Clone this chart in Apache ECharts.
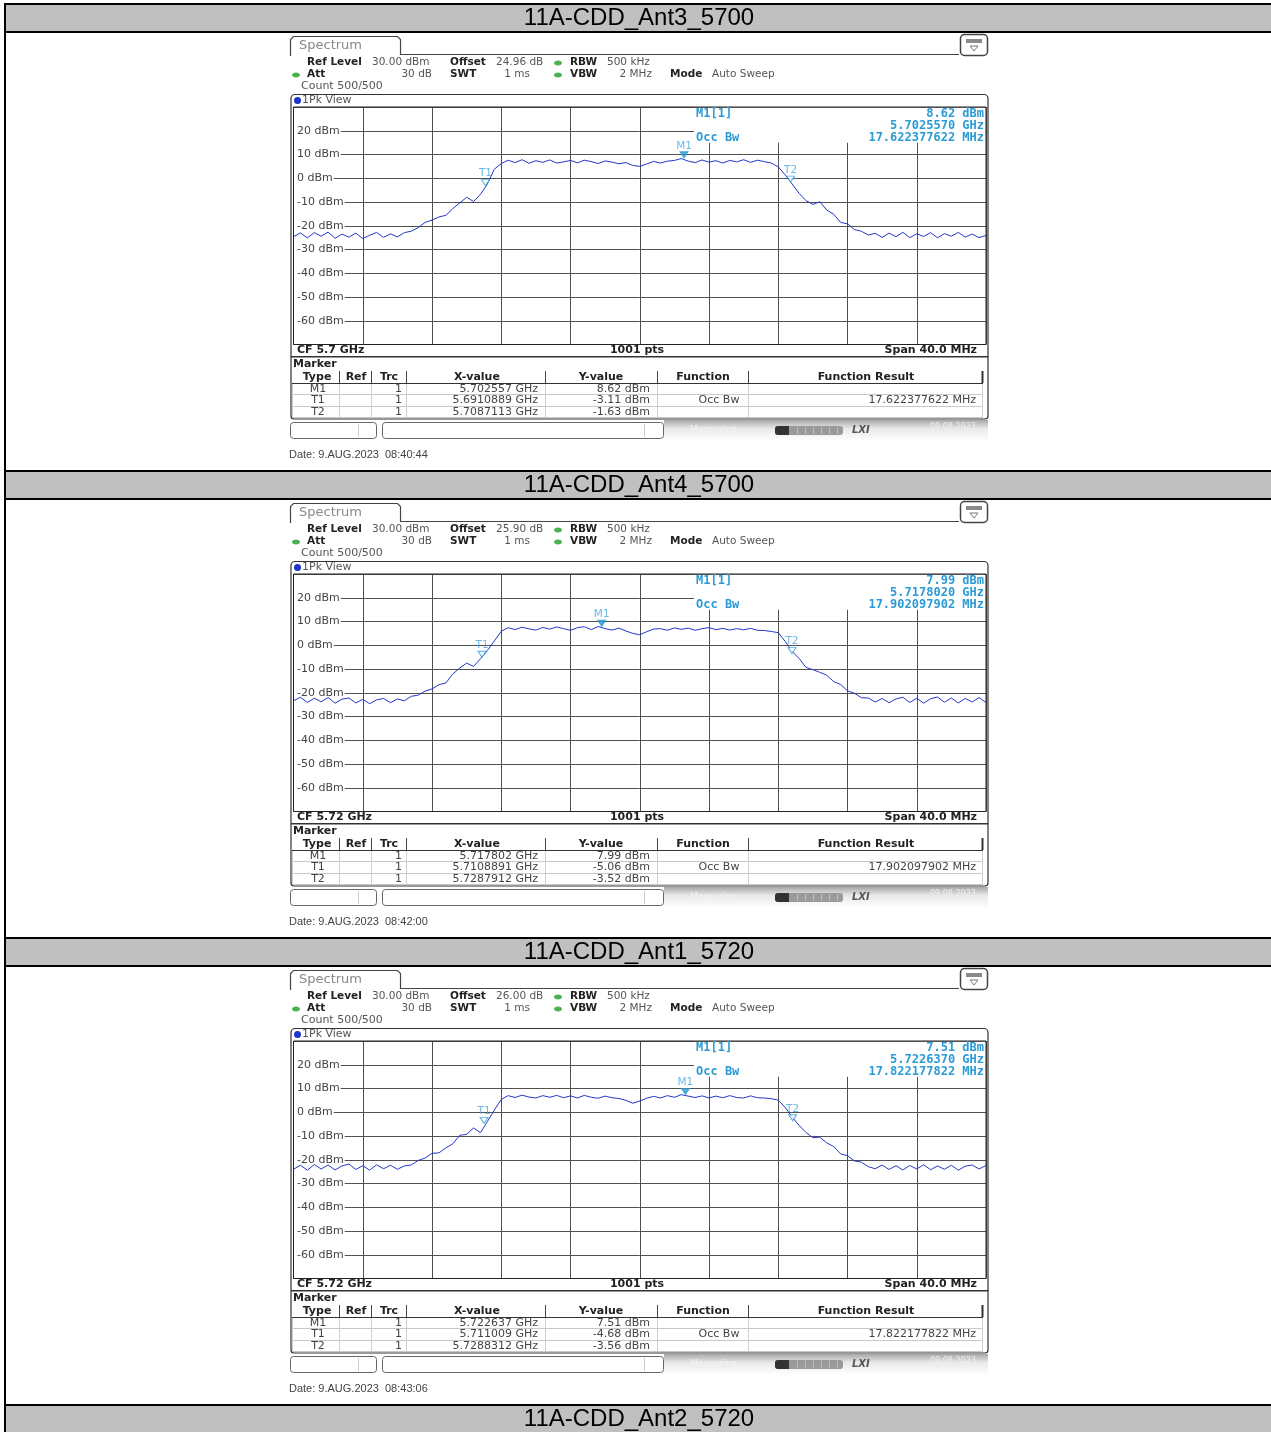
<!DOCTYPE html>
<html><head><meta charset="utf-8">
<script src="https://cdn.jsdelivr.net/npm/echarts@6/dist/echarts.min.js"></script>
<style>html,body{margin:0;padding:0;background:#fff}#c{width:1271px;height:1432px}</style>
</head><body><div id="c"></div>
<script>
// ---------- data ----------
const titles = ['11A-CDD_Ant3_5700','11A-CDD_Ant4_5700','11A-CDD_Ant1_5720','11A-CDD_Ant2_5720'];
const cfLabels = ['CF 5.7 GHz','CF 5.72 GHz','CF 5.72 GHz'];
const startMHz = [5680, 5700, 5700];
const stopMHz = [5720, 5740, 5740];
const stepMHz = 0.4;
const offsets = ['24.96 dB','25.90 dB','26.00 dB'];
const dates = ['Date: 9.AUG.2023  08:40:44','Date: 9.AUG.2023  08:42:00','Date: 9.AUG.2023  08:43:06'];
const yTicks = [20,10,0,-10,-20,-30,-40,-50,-60];

const trace1 = [-24.6,-23.0,-25.1,-22.9,-24.4,-22.7,-25.3,-23.5,-24.8,-23.1,-25.4,-24.0,-22.8,-24.9,-23.4,-24.7,-22.9,-22.3,-20.8,-18.6,
 -17.6,-16.3,-15.6,-12.8,-10.4,-8.0,-9.8,-6.8,-2.4,3.8,6.2,7.6,6.6,7.8,6.3,7.4,6.7,7.7,6.4,6.9,
 7.5,6.5,7.6,7.0,6.2,7.3,6.8,6.1,6.6,5.4,5.0,6.0,7.1,6.4,7.2,7.5,8.3,7.2,6.6,7.7,
 6.8,7.4,6.4,7.5,6.9,7.8,6.7,7.6,7.0,6.4,4.8,1.4,-2.4,-6.3,-9.4,-11.0,-9.9,-13.4,-15.1,-18.6,
 -19.2,-21.6,-22.3,-23.9,-23.2,-24.9,-23.1,-24.6,-22.8,-25.0,-23.4,-24.5,-22.9,-25.1,-23.3,-24.4,-22.8,-24.8,-23.5,-25.0,-24.1];
const trace2 = [-23.4,-21.9,-24.1,-22.3,-23.8,-22.0,-24.4,-22.7,-22.2,-24.3,-22.8,-24.6,-23.0,-22.4,-24.2,-22.6,-23.4,-21.5,-21.0,-19.3,
 -18.4,-16.6,-15.9,-12.1,-9.6,-7.5,-8.9,-5.7,-2.2,1.8,5.9,7.4,6.6,7.6,6.9,6.4,7.5,6.8,7.7,7.0,
 6.3,7.4,7.8,6.6,7.9,7.0,6.4,7.2,6.0,5.0,4.4,5.7,6.8,7.0,6.3,7.3,6.7,7.2,6.3,7.0,
 7.4,6.6,7.1,6.4,7.0,6.5,7.1,6.3,6.2,5.8,5.3,1.6,-2.6,-5.5,-9.3,-10.3,-11.4,-12.6,-15.3,-16.5,
 -19.2,-20.2,-22.1,-22.2,-23.9,-22.4,-24.2,-22.6,-21.9,-24.1,-22.3,-24.4,-22.5,-21.8,-24.0,-22.2,-24.3,-22.4,-23.9,-22.0,-24.1];
const trace3 = [-24.0,-22.3,-24.4,-22.0,-23.9,-22.2,-24.3,-22.6,-21.8,-24.1,-22.5,-24.4,-22.1,-23.8,-22.3,-24.0,-22.6,-22.2,-20.3,-19.3,
 -17.3,-17.1,-15.0,-13.3,-9.7,-9.3,-6.6,-8.6,-3.9,0.9,5.4,7.0,6.2,7.2,6.4,6.0,7.0,6.3,7.1,6.1,
 6.9,6.0,7.1,6.3,5.9,6.8,6.1,5.8,5.0,3.8,4.7,5.9,6.7,6.0,7.0,6.3,7.4,6.8,6.2,6.9,
 6.0,6.8,6.1,7.0,6.2,6.0,6.9,6.1,6.0,5.7,5.1,2.1,-2.0,-5.5,-8.5,-10.7,-10.5,-12.9,-14.4,-17.5,
 -18.3,-20.5,-21.0,-22.9,-23.8,-22.2,-24.1,-22.5,-24.3,-22.4,-23.9,-22.1,-24.2,-22.6,-24.0,-22.3,-24.4,-22.7,-22.2,-23.9,-22.4];
const traces = [trace1, trace2, trace3];

// markers [MHz, dBm]
const markerM1 = [[5702.557, 8.62],[5717.802, 7.99],[5722.637, 7.51]];
const markerT1 = [[5691.0889, -3.11],[5710.8891, -5.06],[5711.009, -4.68]];
const markerT2 = [[5708.7113, -1.63],[5728.7912, -3.52],[5728.8312, -3.56]];
const m1Info = [['8.62 dBm','5.7025570 GHz','17.622377622 MHz'],['7.99 dBm','5.7178020 GHz','17.902097902 MHz'],['7.51 dBm','5.7226370 GHz','17.822177822 MHz']];
const xValues = [['5.702557 GHz','5.6910889 GHz','5.7087113 GHz'],['5.717802 GHz','5.7108891 GHz','5.7287912 GHz'],['5.722637 GHz','5.711009 GHz','5.7288312 GHz']];
const yValues = [['8.62 dBm','-3.11 dBm','-1.63 dBm'],['7.99 dBm','-5.06 dBm','-3.52 dBm'],['7.51 dBm','-4.68 dBm','-3.56 dBm']];
const occBw = ['17.622377622 MHz','17.902097902 MHz','17.822177822 MHz'];

// ---------- layout ----------
const P = 467;
const FS = '"DejaVu Sans"';
function T(x,y,s,o){o=o||{};return {type:'text',z:o.z||30,silent:true,style:{x:x,y:y,text:s,fill:o.c||'#333',font:o.f||('10px '+FS),textAlign:o.a||'left',textVerticalAlign:'middle'}};}
function R(x,y,w,h,o){o=o||{};return {type:'rect',z:o.z||20,silent:true,shape:{x:x,y:y,width:w,height:h,r:o.r||0},style:{fill:o.fill||'none',stroke:o.stroke||null,lineWidth:o.lw||1}};}
function L(x1,y1,x2,y2,c,lw,z){return {type:'line',z:z||22,silent:true,shape:{x1:x1,y1:y1,x2:x2,y2:y2},style:{stroke:c,lineWidth:lw||1}};}

const G = [];
// table
for (let k=0;k<4;k++){
  const b=P*k;
  G.push(R(5,5+b,1266,27,{fill:'#c0c0c0',z:1}));
  G.push(L(4,4+b,1271,4+b,'#000',2,3));
  G.push(L(4,32+b,1271,32+b,'#000',2,3));
  G.push(T(639,18.5+b,titles[k],{f:'24px "Liberation Sans", Arial',c:'#000',a:'center'}));
}
G.push(L(5,3,5,1432,'#000',2,3));

const grids=[],xAxes=[],yAxes=[],series=[];
const BLUE='#2a9bd6';
for (let k=0;k<3;k++){
  const b=P*k;
  // tab & header line
  G.push({type:'polyline',z:20,silent:true,shape:{points:[[290.5,56+b],[290.5,39.5+b],[293.5,36.5+b],[397.5,36.5+b],[400.5,39.5+b],[400.5,54.5+b],[959,54.5+b]]},style:{stroke:'#444',lineWidth:1.2,fill:null}});
  G.push(T(299,46+b,'Spectrum',{f:'13px '+FS,c:'#888'}));
  // icon
  G.push(R(960.5,34.5+b,27,21,{r:4,stroke:'#444',lw:1.5,fill:'#fff'}));
  G.push(R(966,39+b,16,4,{fill:'#8a8a8a',z:21}));
  G.push({type:'polygon',z:21,silent:true,shape:{points:[[970,46+b],[978,46+b],[974,51+b]]},style:{fill:'#fff',stroke:'#777',lineWidth:1}});
  // settings text
  const bf='bold 10.5px '+FS, nf='10.5px '+FS, tf='11px '+FS, tbf='bold 11px '+FS;
  G.push(T(307,62.5+b,'Ref Level',{f:bf,c:'#222'}));
  G.push(T(372,62.5+b,'30.00 dBm',{f:nf,c:'#555'}));
  G.push(T(450,62.5+b,'Offset',{f:bf,c:'#222'}));
  G.push(T(496,62.5+b,offsets[k],{f:nf,c:'#555'}));
  G.push({type:'ellipse',z:25,silent:true,shape:{cx:558,cy:63+b,rx:4,ry:2.5},style:{fill:'#4caf50'}});
  G.push(T(570,62.5+b,'RBW',{f:bf,c:'#222'}));
  G.push(T(607,62.5+b,'500 kHz',{f:nf,c:'#555'}));
  G.push({type:'ellipse',z:25,silent:true,shape:{cx:296,cy:75+b,rx:4,ry:2.5},style:{fill:'#4caf50'}});
  G.push(T(307,74.5+b,'Att',{f:bf,c:'#222'}));
  G.push(T(432,74.5+b,'30 dB',{f:nf,c:'#555',a:'right'}));
  G.push(T(450,74.5+b,'SWT',{f:bf,c:'#222'}));
  G.push(T(530,74.5+b,'1 ms',{f:nf,c:'#555',a:'right'}));
  G.push({type:'ellipse',z:25,silent:true,shape:{cx:558,cy:75+b,rx:4,ry:2.5},style:{fill:'#4caf50'}});
  G.push(T(570,74.5+b,'VBW',{f:bf,c:'#222'}));
  G.push(T(652,74.5+b,'2 MHz',{f:nf,c:'#555',a:'right'}));
  G.push(T(670,74.5+b,'Mode',{f:bf,c:'#222'}));
  G.push(T(712,74.5+b,'Auto Sweep',{f:nf,c:'#555'}));
  G.push(T(301,86.5+b,'Count 500/500',{f:tf,c:'#555'}));
  // view box
  G.push(R(291,94.5+b,697,262,{r:[4,4,0,0],stroke:'#333',lw:1.2}));
  G.push({type:'circle',z:25,silent:true,shape:{cx:297.5,cy:100.5+b,r:3.5},style:{fill:'#1f35c8'}});
  G.push(T(302,100.5+b,'1Pk View',{f:tf,c:'#555'}));
  G.push(R(293.5,107+b,692.5,237.5,{stroke:'#222',lw:1,z:24}));
  // marker info box
  G.push(R(694,107.8+b,291.5,35,{fill:'#fff',z:10}));
  const mf='bold 12px "DejaVu Sans Mono", monospace';
  G.push(T(696,113.5+b,'M1[1]',{f:mf,c:BLUE}));
  G.push(T(696,137.5+b,'Occ Bw',{f:mf,c:BLUE}));
  G.push(T(984,113.5+b,m1Info[k][0],{f:mf,c:BLUE,a:'right'}));
  G.push(T(984,125.5+b,m1Info[k][1],{f:mf,c:BLUE,a:'right'}));
  G.push(T(984,137.5+b,m1Info[k][2],{f:mf,c:BLUE,a:'right'}));
  // CF row
  G.push(T(297,350.5+b,cfLabels[k],{f:tbf,c:'#222'}));
  G.push(T(637,350.5+b,'1001 pts',{f:tbf,c:'#222',a:'center'}));
  G.push(T(977,350.5+b,'Span 40.0 MHz',{f:tbf,c:'#222',a:'right'}));
  // marker table box
  G.push(R(291,357+b,697,62,{r:[0,0,3,3],stroke:'#333',lw:1.2}));
  G.push(T(293,364.5+b,'Marker',{f:tbf,c:'#222'}));
  const seps=[339,371,406,545,657,748];
  seps.forEach(x=>G.push(L(x+0.5,371+b,x+0.5,383+b,'#444',1)));
  G.push(L(982.5,371+b,982.5,383+b,'#333',2));
  G.push(L(292,383.5+b,983,383.5+b,'#333',1));
  const hdr=[['Type',317],['Ref',356],['Trc',389],['X-value',477],['Y-value',601],['Function',703],['Function Result',866]];
  hdr.forEach(h=>G.push(T(h[1],377.5+b,h[0],{f:tbf,c:'#222',a:'center'})));
  [394.5,406.5,417.5].forEach(y=>G.push(L(292,y+b,983,y+b,'#c8c8c8',1)));
  seps.concat([292,982]).forEach(x=>G.push(L(x+0.5,384+b,x+0.5,417.5+b,'#cfcfcf',1)));
  const types=['M1','T1','T2'];
  for(let r=0;r<3;r++){
    const y=389+11.5*r+b;
    G.push(T(318,y,types[r],{f:tf,c:'#444',a:'center'}));
    G.push(T(402,y,'1',{f:tf,c:'#444',a:'right'}));
    G.push(T(538,y,xValues[k][r],{f:tf,c:'#444',a:'right'}));
    G.push(T(650,y,yValues[k][r],{f:tf,c:'#444',a:'right'}));
  }
  G.push(T(719,400.5+b,'Occ Bw',{f:tf,c:'#444',a:'center'}));
  G.push(T(976,400.5+b,occBw[k],{f:tf,c:'#444',a:'right'}));
  // bottom bar
  G.push(R(290.5,422.5+b,86,16,{r:3,stroke:'#666',fill:'#fff'}));
  G.push(L(358.5,424+b,358.5,437+b,'#ccc',1));
  G.push(R(382.5,422.5+b,281,16,{r:3,stroke:'#666',fill:'#fff'}));
  G.push(L(644.5,424+b,644.5,437+b,'#ccc',1));
  G.push({type:'rect',z:20,silent:true,shape:{x:664,y:420+b,width:324,height:21},style:{fill:{type:'linear',x:0,y:0,x2:0,y2:1,colorStops:[{offset:0,color:'#a8a8a8'},{offset:0.4,color:'#e8e8e8'},{offset:1,color:'#ffffff'}]}}});
  G.push(T(690,430+b,'Measuring',{f:'9px '+FS,c:'#f2f2f2'}));
  G.push(R(775,426+b,68,9,{r:3,fill:'#9a9a9a',z:21}));
  G.push(R(775,426+b,14,9,{r:[3,0,0,3],fill:'#333',z:22}));
  [797,805,813,821,829,837].forEach(x=>G.push(L(x+0.5,427+b,x+0.5,434+b,'#bdbdbd',1,23)));
  G.push(T(852,430+b,'LXI',{f:'italic bold 10px '+FS,c:'#555'}));
  G.push(T(930,427+b,'09.08.2023',{f:'8px '+FS,c:'#eeeeee'}));
  // date
  G.push(T(289,455+b,dates[k],{f:'11px "Liberation Sans", Arial',c:'#444'}));

  // grid & axes
  grids.push({left:293.5,top:107+b,width:692.5,height:237.5,containLabel:false});
  xAxes.push({type:'value',gridIndex:k,min:startMHz[k],max:stopMHz[k],interval:4,
    axisLabel:{show:false},axisTick:{show:false},axisLine:{show:false},
    splitLine:{show:true,lineStyle:{color:'#505050',width:1}}});
  yAxes.push({type:'value',gridIndex:k,min:-70,max:30,interval:10,
    axisLine:{show:false},axisTick:{show:false},
    axisLabel:{inside:true,margin:0.5,showMinLabel:false,showMaxLabel:false,
      formatter:v=>(yTicks.indexOf(v)>=0?v+' dBm':''),
      color:'#444',fontSize:11,fontFamily:'DejaVu Sans',backgroundColor:'#fff',padding:[1,1,1,3]},
    splitLine:{show:true,lineStyle:{color:'#505050',width:1}}});
  const tr=traces[k];
  series.push({type:'line',xAxisIndex:k,yAxisIndex:k,showSymbol:false,symbol:'none',z:3,
    lineStyle:{color:'#2438c8',width:1},
    data:tr.map((v,i)=>[startMHz[k]+i*stepMHz,v])});
  const mk=(name,pt,filled)=>({type:'scatter',xAxisIndex:k,yAxisIndex:k,z:5,
    symbol:'triangle',symbolRotate:180,symbolSize:[8,6],symbolOffset:[0,-3],
    itemStyle:{color:filled?BLUE:'#ffffff',borderColor:BLUE,borderWidth:1},
    label:{show:true,position:'top',distance:0,formatter:name,color:'#4aa8dc',fontSize:10.5,fontFamily:'DejaVu Sans'},
    data:[pt]});
  series.push(mk('M1',markerM1[k],true));
  series.push(mk('T1',markerT1[k],false));
  series.push(mk('T2',markerT2[k],false));
}

const chart = echarts.init(document.getElementById('c'),null,{renderer:'canvas'});
chart.setOption({animation:false,backgroundColor:'#fff',grid:grids,xAxis:xAxes,yAxis:yAxes,series:series,graphic:{elements:G}});
</script></body></html>
